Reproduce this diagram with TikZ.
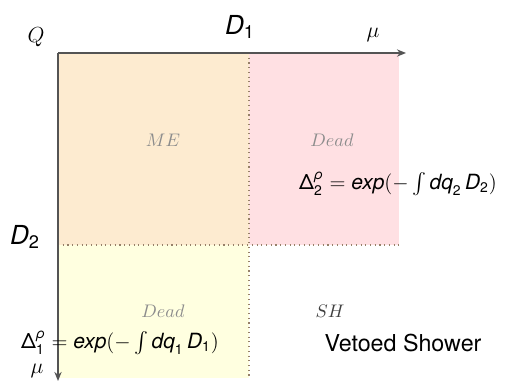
\documentclass[tikz,border=0pt]{standalone}
\usepackage{amsmath}
\usepackage{fontspec}
\setsansfont{TeX Gyre Heros}
\usetikzlibrary{arrows.meta,positioning}

\newcommand{\si}[1]{\textsf{\itshape #1}}
\newcommand{\su}[1]{\textsf{#1}}
\definecolor{meorange}{RGB}{253,235,208}
\definecolor{deadpink}{RGB}{255,224,227}
\definecolor{deadyellow}{RGB}{255,255,224}

\begin{document}
\begin{tikzpicture}[x=0.55pt,y=-0.55pt,
  axis/.style={draw=black!67, line width=0.8pt, -{Stealth[length=5pt,width=4pt]}},
  cut/.style={draw=brown!35!gray, dotted, line width=0.6pt},
  region/.style={text=black!45, inner sep=1pt},
  formula/.style={font=\sffamily\large, inner sep=1pt, scale=0.96}]
\useasboundingbox (0,0) rectangle (529,383);
% shaded regions
\fill[meorange] (58,53) rectangle (249,245);
\fill[deadpink] (249,53) rectangle (399,245);
\fill[deadyellow] (58,245) rectangle (249,378);
% cuts
\coordinate (c1top) at (249,53);
\coordinate (c1bot) at (249,379);
\coordinate (c2l) at (58,245);
\coordinate (c2r) at (402,245);
\draw[cut] (c1top) -- (c1bot);
\draw[cut] (c2l) -- (c2r);
% axes
\coordinate (O) at (58,53);
\coordinate (xend) at (406,53);
\coordinate (yend) at (58,381);
\draw[axis] (O) -- (xend);
\draw[axis] (O) -- (yend);
% axis labels
\node[font=\large] (Q) at (36,37) {$Q$};
\node[font=\large] (muX) at (373,35) {$\mu$};
\node[font=\large] (muY) at (37,371) {$\mu$};
\node[font=\Large] (D1) at (240,27) {$\si{D}_{\su{1}}$};
\node[font=\Large] (D2) at (25,237) {$\si{D}_{\su{2}}$};
% region labels
\node[region] (me) at (163,140) {$ME$};
\node[region] (dead2) at (332,140) {$Dead$};
\node[region] (dead1) at (163,311) {$Dead$};
\node[region, text=black!75] (sh) at (330,311) {$SH$};
% formulas
\node[formula] (delta2) at (398,184)
  {$\su{Δ}^{\si{ρ}}_{\su{2}} = \si{exp}(-\int \si{dq}_{\su{2}}\,\si{D}_{\su{2}})$};
\node[formula] (delta1) at (120,343)
  {$\su{Δ}^{\si{ρ}}_{\su{1}} = \si{exp}(-\int \si{dq}_{\su{1}}\,\si{D}_{\su{1}})$};
\node[font=\sffamily\fontsize{12.8}{15}\selectfont, inner sep=1pt] (veto) at (403,343) {Vetoed Shower};
\end{tikzpicture}
\end{document}
